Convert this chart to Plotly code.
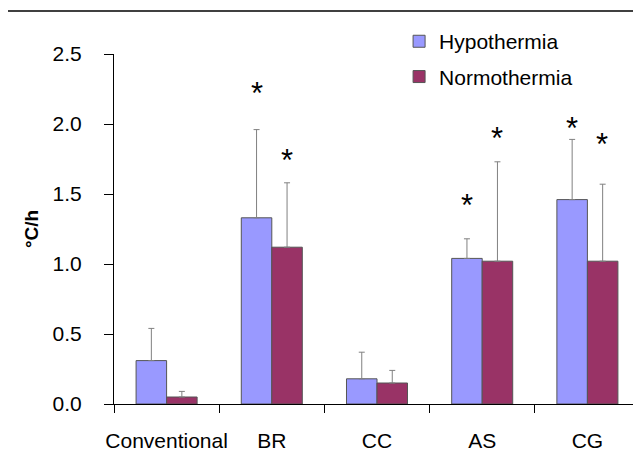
import plotly.graph_objects as go

categories = ["Conventional", "BR", "CC", "AS", "CG"]
hypo = [0.31, 1.33, 0.18, 1.04, 1.46]
hypo_err = [0.23, 0.63, 0.19, 0.14, 0.43]
normo = [0.05, 1.12, 0.15, 1.02, 1.02]
normo_err = [0.04, 0.46, 0.09, 0.71, 0.55]
# heights (data units) of significance asterisks; None = no asterisk
star_hypo = [None, 2.26, None, 1.46, 2.01]
star_normo = [None, 1.78, None, 1.94, 1.90]

FONT = "Liberation Sans, Arial, sans-serif"

fig = go.Figure()
fig.add_trace(go.Bar(
    x=categories, y=hypo, name="Hypothermia", legendgroup="a",
    marker=dict(color="#9999FF", line=dict(color="#555555", width=1)),
    error_y=dict(type="data", array=hypo_err, arrayminus=[0]*5, symmetric=False,
                 color="#808080", thickness=1, width=3),
))
fig.add_trace(go.Bar(
    x=categories, y=normo, name="Normothermia", legendgroup="b",
    marker=dict(color="#993366", line=dict(color="#555555", width=1)),
    error_y=dict(type="data", array=normo_err, arrayminus=[0]*5, symmetric=False,
                 color="#808080", thickness=1, width=3),
))

annotations = []
for cat, yh, yn in zip(categories, star_hypo, star_normo):
    for yv, dx in ((yh, -15), (yn, 15)):
        if yv is not None:
            annotations.append(dict(x=cat, y=yv, xref="x", yref="y", text="*",
                                    showarrow=False, xshift=dx, yshift=-6,
                                    font=dict(family=FONT, size=31, color="black")))

fig.update_layout(
    width=633, height=444,
    margin=dict(l=106, r=1, t=46, b=48, autoexpand=False),
    paper_bgcolor="white", plot_bgcolor="white",
    barmode="group", bargap=0.42, bargroupgap=0,
    font=dict(family=FONT, size=21, color="black"),
    legend=dict(x=0.542, y=1.094, xanchor="left", yanchor="top",
                font=dict(size=21), tracegroupgap=5, bgcolor="rgba(0,0,0,0)"),
    annotations=annotations,
    shapes=[dict(type="line", xref="paper", yref="paper", x0=-0.205, x1=1.01,
                 y0=1.123, y1=1.123, line=dict(color="black", width=1.5))],
    showlegend=True,
)
fig.update_yaxes(range=[0, 2.5], dtick=0.5, tickformat=".1f", showgrid=False,
                 zeroline=False, showline=True, linecolor="black", linewidth=1,
                 ticks="outside", ticklen=9, tickcolor="black", ticklabelstandoff=18,
                 tickfont=dict(size=21), automargin=False,
                 title=dict(text="<b>°C/h</b>", font=dict(size=19), standoff=8))
fig.update_xaxes(showgrid=False, showline=True, linecolor="black", linewidth=1,
                 ticks="outside", tickson="boundaries", ticklen=8, tickcolor="black",
                 tickfont=dict(size=21), tickangle=0, automargin=False,
                 ticklabelstandoff=18)

fig.write_html("out.html")
